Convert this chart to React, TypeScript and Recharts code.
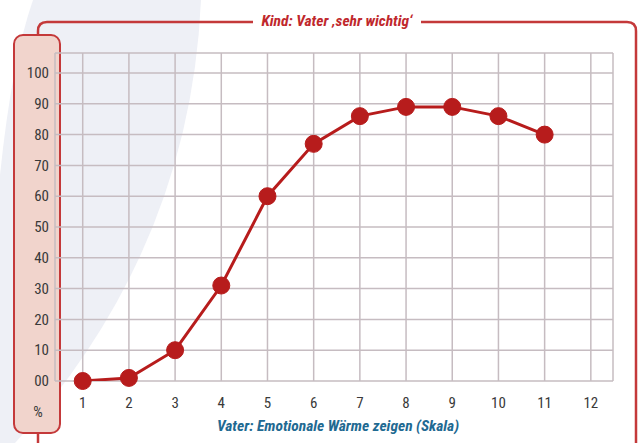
import { LineChart, Line, XAxis, YAxis, CartesianGrid } from "recharts";

// Vater: Emotionale Wärme zeigen (Skala) -> % Kind: Vater "sehr wichtig"
const scale = [1, 2, 3, 4, 5, 6, 7, 8, 9, 10, 11];
const percent = [0, 1, 10, 31, 60, 77, 86, 89, 89, 86, 80];
const xTicks = [1, 2, 3, 4, 5, 6, 7, 8, 9, 10, 11, 12];
const yTicks = [0, 10, 20, 30, 40, 50, 60, 70, 80, 90, 100];

const data = scale.map((s, i) => ({ s, value: percent[i] }));

const RED = "#c4393a";
const LINE_RED = "#b71c1c";
const FONT = '"Liberation Sans Narrow", "Roboto Condensed", Roboto, sans-serif';

const YTick = (props: any) => {
  const { y, payload } = props;
  const label = payload.value === 0 ? "00" : String(payload.value);
  return (
    <text x={49} y={y} dy="0.35em" textAnchor="end" fill="#3a3a3a" fontSize={15} fontFamily={FONT}>
      {label}
    </text>
  );
};

export default function App() {
  return (
    <div style={{ position: "absolute", left: 0, top: 0, width: 639, height: 443, background: "#fff", overflow: "hidden" }}>
      <svg width={639} height={443} style={{ position: "absolute", left: 0, top: 0 }}>
        <path d="M 33 0 L 201 0 Q 190 250 15 443 L 0 443 L 0 175 Q 12 60 33 0 Z" fill="#eef0f6" />
        <path d="M 38 35 L 38 31 Q 38 22 47 22 L 253 22" fill="none" stroke={RED} strokeWidth={2.5} />
        <path d="M 421 22 L 627 22 Q 636 22 636 31 L 636 443" fill="none" stroke={RED} strokeWidth={2.5} />
        <line x1={38} y1={433} x2={38} y2={443} stroke={RED} strokeWidth={2.5} />
        <rect x={14} y={35} width={46} height={398} rx={9} fill="#f1d4cc" stroke={RED} strokeWidth={2} />
        <text x={337} y={26} textAnchor="middle" fill="#c0282d" fontSize={15.5} fontWeight="bold" fontStyle="italic" fontFamily={FONT}>
          Kind: Vater ‚sehr wichtig‘
        </text>
        <text x={38} y={417} textAnchor="middle" fill="#3a3a3a" fontSize={15} fontFamily={FONT}>
          %
        </text>
        <text x={338} y={431} textAnchor="middle" fill="#1f6a92" fontSize={15.5} fontWeight="bold" fontStyle="italic" fontFamily={FONT}>
          Vater: Emotionale Wärme zeigen (Skala)
        </text>
      </svg>
      <div style={{ position: "absolute", left: 0, top: 0 }}>
        <LineChart width={639} height={443} data={data} margin={{ top: 53, right: 26, bottom: 32, left: 0 }}>
          <CartesianGrid stroke="#c6bcc1" strokeWidth={1.5} />
          <XAxis
            dataKey="s"
            type="number"
            domain={[0.4, 12.48]}
            allowDataOverflow={true}
            ticks={xTicks}
            axisLine={false}
            tickLine={false}
            tickSize={6}
            tickMargin={10}
            height={30}
            tick={{ fill: "#3a3a3a", fontSize: 15, fontFamily: FONT }}
          />
          <YAxis
            type="number"
            domain={[0, 106.5]}
            allowDataOverflow={true}
            ticks={yTicks}
            width={55}
            axisLine={false}
            tickLine={false}
            tick={<YTick />}
          />
          <Line
            type="linear"
            dataKey="value"
            stroke={LINE_RED}
            strokeWidth={3}
            dot={{ r: 8.5, fill: LINE_RED, stroke: LINE_RED, strokeWidth: 1, clipDot: false }}
            activeDot={false}
            isAnimationActive={false}
          />
        </LineChart>
      </div>
    </div>
  );
}
